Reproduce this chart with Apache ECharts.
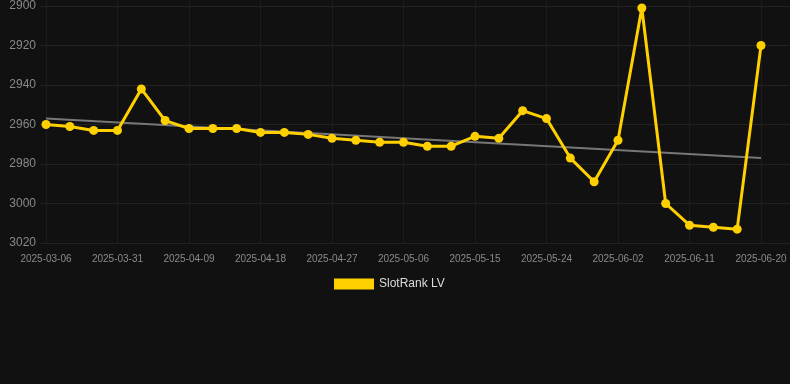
<!DOCTYPE html>
<html><head><meta charset="utf-8">
<script src="https://cdn.jsdelivr.net/npm/echarts@6/dist/echarts.min.js"></script>
<style>html,body{margin:0;padding:0;background:#111111;}#c{width:790px;height:384px;}</style>
</head><body><div id="c"></div>
<script>
const categories = ['2025-03-06','2025-03-25','2025-03-28','2025-03-31','2025-04-03','2025-04-06','2025-04-09','2025-04-12','2025-04-15','2025-04-18','2025-04-21','2025-04-24','2025-04-27','2025-04-30','2025-05-03','2025-05-06','2025-05-09','2025-05-12','2025-05-15','2025-05-18','2025-05-21','2025-05-24','2025-05-27','2025-05-30','2025-06-02','2025-06-05','2025-06-08','2025-06-11','2025-06-14','2025-06-17','2025-06-20'];
const rankValues = [2960,2961,2963,2963,2942,2958,2962,2962,2962,2964,2964,2965,2967,2968,2969,2969,2971,2971,2966,2967,2953,2957,2977,2989,2968,2901,3000,3011,3012,3013,2920];
const trendStart = 2957;
const trendEnd = 2977;
const yTicks = [2900, 3020, 20];

const chart = echarts.init(document.getElementById('c'));
const trendData = categories.map((c, i) => i === 0 ? trendStart : (i === categories.length - 1 ? trendEnd : null));
chart.setOption({
  backgroundColor: '#111111',
  animation: false,
  legend: {
    data: ['SlotRank LV'],
    top: 273,
    left: 329,
    icon: 'rect',
    itemWidth: 40,
    itemHeight: 11,
    itemGap: 10,
    textStyle: { color: '#dddddd', fontSize: 12, fontFamily: 'Liberation Sans, Arial, sans-serif' }
  },
  grid: [
    { left: 46, right: 29, top: 0, bottom: 141 },
    { left: 40, right: 0, top: 6, bottom: 141 }
  ],
  xAxis: [
    {
      gridIndex: 0, type: 'category', data: categories, boundaryGap: false,
      axisLine: { show: false }, axisTick: { show: false },
      axisLabel: { interval: 2, color: '#8a8a8a', fontSize: 10, margin: 11, fontFamily: 'Liberation Sans, Arial, sans-serif' },
      splitLine: { show: true, interval: 2, lineStyle: { color: '#1c1c1c', width: 1 } }
    },
    {
      gridIndex: 1, type: 'value', min: 0, max: 1, show: false
    }
  ],
  yAxis: [
    {
      gridIndex: 0, type: 'value', inverse: true, min: 2896.96, max: 3020,
      show: false, splitLine: { show: false }
    },
    {
      gridIndex: 1, type: 'value', inverse: true, min: yTicks[0], max: yTicks[1], interval: yTicks[2],
      axisLine: { show: false }, axisTick: { show: false },
      axisLabel: { color: '#8a8a8a', fontSize: 12, margin: 4, fontFamily: 'Liberation Sans, Arial, sans-serif', formatter: v => String(v) },
      splitLine: { show: true, lineStyle: { color: '#222222', width: 1 } }
    }
  ],
  series: [
    {
      name: 'Trend', type: 'line', xAxisIndex: 0, yAxisIndex: 0,
      data: trendData, connectNulls: true, symbol: 'none',
      lineStyle: { color: '#777777', width: 2 }, z: 1, silent: true
    },
    {
      name: 'SlotRank LV', type: 'line', xAxisIndex: 0, yAxisIndex: 0,
      data: rankValues, symbol: 'circle', symbolSize: 9,
      itemStyle: { color: '#FFD000' },
      lineStyle: { color: '#FFD000', width: 3 }, z: 2
    }
  ]
});
</script></body></html>
